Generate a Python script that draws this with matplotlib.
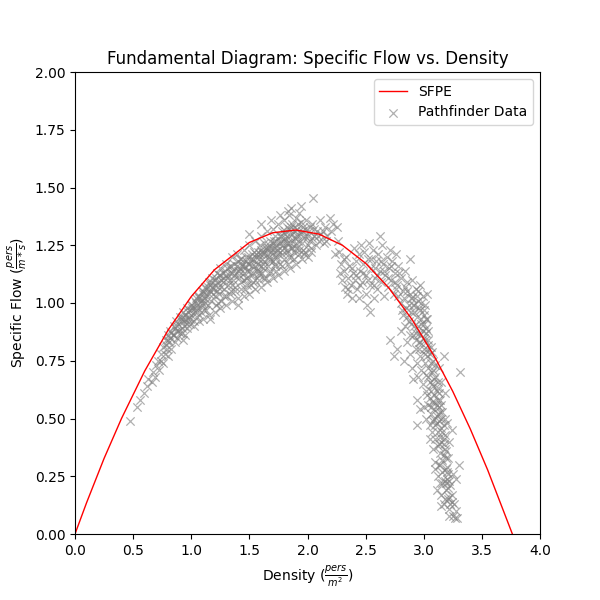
import matplotlib
matplotlib.use("Agg")
import matplotlib.pyplot as plt
import numpy as np

# SFPE curve points (density, specific flow)
sfpe_density = [0.0, 0.1, 0.25, 0.4, 0.6, 0.8, 1.0, 1.2, 1.5, 1.7, 1.9, 2.1, 2.3,
                2.5, 2.7, 2.9, 3.1, 3.25, 3.4, 3.55, 3.77]
sfpe_flow = [0.0, 0.136, 0.327, 0.500, 0.706, 0.882, 1.028, 1.144, 1.262, 1.304, 1.316,
             1.298, 1.250, 1.172, 1.065, 0.928, 0.761, 0.617, 0.455, 0.277, -0.01]

# Pathfinder data, region A (rising branch)
dens_a = [0.47, 0.53, 0.56, 0.59, 0.62, 0.63, 0.66, 0.67, 0.69, 0.70, 0.71, 0.72, 0.74, 0.74,
          0.76, 0.76, 0.77, 0.78, 0.79, 0.80, 0.80, 0.81, 0.82, 0.83, 0.84, 0.85, 0.86, 0.87,
          0.87, 0.88, 0.89, 0.90, 0.90, 0.91, 0.92, 0.93, 0.93, 0.94, 0.95, 0.96, 0.96, 0.97,
          0.98, 0.99, 1.00, 1.00, 1.01, 1.02, 1.03, 1.03, 1.04, 1.05, 1.06, 1.06, 1.07, 1.08,
          1.09, 1.09, 1.10, 1.11, 1.12, 1.12, 1.13, 1.14, 1.15, 1.15, 1.16, 1.16, 1.17, 1.18,
          1.19, 1.20, 1.20, 1.21, 1.22, 1.23, 1.24, 1.25, 1.25, 1.26, 1.27, 1.28, 1.29, 1.30,
          1.30, 1.31, 1.32, 1.33, 1.34, 1.35, 1.35, 1.36, 1.37, 1.38, 1.39, 1.40, 1.40, 1.41,
          1.42, 1.43, 1.44, 1.45, 1.45, 1.46, 1.47, 1.48, 1.49, 1.50, 1.50, 1.51, 1.52, 1.53,
          1.54, 1.55, 1.55, 1.56, 1.57, 1.58, 1.58, 1.59, 1.60, 1.60, 1.61, 1.62, 1.63, 1.63,
          1.64, 1.65, 1.65, 1.66, 1.67, 1.68, 1.68, 1.69, 1.70, 1.70, 1.71, 1.72, 1.72, 1.73,
          1.74, 1.75, 1.75, 1.76, 1.77, 1.78, 1.78, 1.79, 1.80, 1.80, 1.81, 1.82, 1.82, 1.83,
          1.84, 1.84, 1.85, 1.86, 1.86, 1.87, 1.88, 1.88, 1.89, 1.90, 1.90, 1.91, 1.92, 1.93,
          1.93, 1.94, 1.95, 1.96, 1.97, 1.98, 1.99, 2.00, 2.01, 2.02, 2.03, 2.04, 2.05, 2.06,
          2.07, 2.08, 2.10, 2.11, 2.12, 2.14, 2.15, 2.17, 2.19, 2.20, 2.22, 2.25, 1.94, 1.83,
          1.76, 1.69, 1.60, 1.50]
flow_a = [0.49, 0.55, 0.58, 0.61, 0.64, 0.67, 0.66, 0.70, 0.68, 0.73, 0.75, 0.71, 0.75, 0.78,
          0.74, 0.81, 0.78, 0.84, 0.80, 0.77, 0.86, 0.83, 0.88, 0.80, 0.86, 0.90, 0.83, 0.88,
          0.92, 0.85, 0.91, 0.94, 0.87, 0.93, 0.89, 0.96, 0.84, 0.92, 0.95, 0.89, 0.98, 0.93,
          0.97, 0.91, 0.99, 0.95, 0.98, 0.92, 1.01, 0.96, 1.00, 0.94, 1.03, 0.98, 1.02, 0.96,
          1.05, 1.00, 1.04, 0.97, 1.07, 1.02, 1.06, 0.99, 1.09, 1.04, 0.93, 1.08, 1.01, 1.11,
          1.06, 1.03, 1.10, 0.99, 1.13, 1.07, 1.04, 1.12, 1.15, 1.01, 1.09, 1.06, 1.14, 1.17,
          1.03, 1.11, 1.08, 1.16, 1.05, 1.20, 1.13, 1.10, 1.17, 1.07, 1.21, 1.14, 0.99, 1.11,
          1.19, 1.09, 1.16, 1.23, 1.13, 1.06, 1.20, 1.11, 1.17, 1.14, 1.25, 1.08, 1.21, 1.13,
          1.18, 1.27, 1.10, 1.15, 1.22, 1.12, 1.19, 1.25, 1.16, 1.29, 1.13, 1.21, 1.18, 1.26,
          1.11, 1.23, 1.31, 1.16, 1.20, 1.27, 1.14, 1.24, 1.18, 1.32, 1.22, 1.16, 1.29, 1.25,
          1.20, 1.34, 1.23, 1.17, 1.27, 1.21, 1.31, 1.25, 1.19, 1.36, 1.28, 1.23, 1.33, 1.26,
          1.20, 1.38, 1.30, 1.24, 1.41, 1.34, 1.27, 1.22, 1.31, 1.37, 1.25, 1.29, 1.34, 1.23,
          1.39, 1.30, 1.26, 1.33, 1.21, 1.29, 1.36, 1.25, 1.31, 1.27, 1.22, 1.34, 1.455, 1.29,
          1.25, 1.31, 1.27, 1.36, 1.30, 1.26, 1.33, 1.29, 1.37, 1.31, 1.34, 1.33, 1.42, 1.40,
          1.38, 1.36, 1.34, 1.30]

# region A core (dense part of the rising branch)
dens_a2 = [0.78, 0.80, 0.82, 0.83, 0.85, 0.86, 0.88, 0.89, 0.91, 0.92, 0.94, 0.95, 0.97, 0.98,
           1.00, 1.01, 1.03, 1.04, 1.05, 1.07, 1.08, 1.10, 1.11, 1.13, 1.14, 1.16, 1.17, 1.18,
           1.20, 1.21, 1.23, 1.24, 1.26, 1.27, 1.28, 1.30, 1.31, 1.33, 1.34, 1.36, 1.37, 1.39,
           1.40, 1.42, 1.43, 1.44, 1.46, 1.47, 1.49, 1.50, 1.52, 1.53, 1.54, 1.56, 1.57, 1.59,
           1.60, 1.61, 1.63, 1.64, 1.66, 1.67, 1.69, 1.70, 1.71, 1.73, 1.74, 1.76, 1.77, 1.79,
           1.80, 1.81, 1.83, 1.84, 1.85, 1.87, 1.88, 1.89, 1.91, 1.92, 1.94, 1.95, 1.97, 1.98,
           2.00, 2.02, 2.04, 2.06, 2.09, 2.13, 2.16, 1.05, 1.12, 1.19, 1.26, 1.33, 1.41, 1.48,
           1.55, 1.62, 1.68, 1.75, 1.82, 1.90, 0.99, 1.09, 1.22, 1.35, 1.45, 1.58, 1.72, 1.86,
           1.96, 0.92, 0.96]
flow_a2 = [0.82, 0.84, 0.85, 0.87, 0.86, 0.89, 0.90, 0.88, 0.92, 0.94, 0.90, 0.93, 0.96, 0.94,
           0.97, 0.99, 0.98, 1.02, 0.99, 1.03, 1.01, 1.05, 1.02, 1.04, 1.07, 1.05, 1.09, 1.07,
           1.08, 1.11, 1.09, 1.12, 1.10, 1.13, 1.11, 1.12, 1.15, 1.13, 1.16, 1.14, 1.12, 1.16,
           1.18, 1.15, 1.19, 1.17, 1.15, 1.18, 1.20, 1.17, 1.16, 1.19, 1.22, 1.20, 1.17, 1.21,
           1.23, 1.19, 1.22, 1.24, 1.21, 1.25, 1.22, 1.26, 1.24, 1.27, 1.23, 1.26, 1.29, 1.27,
           1.24, 1.30, 1.28, 1.32, 1.26, 1.30, 1.33, 1.28, 1.32, 1.27, 1.35, 1.31, 1.28, 1.32,
           1.29, 1.33, 1.28, 1.32, 1.29, 1.31, 1.27, 0.96, 1.00, 1.04, 1.07, 1.10, 1.12, 1.14,
           1.16, 1.17, 1.19, 1.21, 1.22, 1.24, 0.93, 0.99, 1.05, 1.08, 1.10, 1.13, 1.17, 1.20,
           1.23, 0.87, 0.91]

# region A lower edge and extra core
dens_a3 = [1.10, 1.15, 1.20, 1.25, 1.30, 1.35, 1.40, 1.45, 1.50, 1.55, 1.60, 1.65, 1.70, 1.75,
           1.80, 1.85, 1.90, 1.95, 2.00, 1.13, 1.23, 1.33, 1.43, 1.53, 1.63, 1.73, 1.83, 1.93,
           2.03, 1.28, 1.38, 1.48, 1.58, 1.68, 1.78, 1.88, 1.98, 0.95, 1.02, 1.07,
           1.41, 1.46, 1.51, 1.56, 1.61, 1.66, 1.71, 1.76, 1.81, 1.86, 1.91, 1.52, 1.62, 1.72,
           1.82, 1.87, 1.78, 1.68, 1.57, 1.47]
flow_a3 = [0.93, 0.95, 0.96, 0.98, 0.99, 1.01, 1.02, 1.03, 1.04, 1.06, 1.07, 1.09, 1.11, 1.12,
           1.14, 1.15, 1.17, 1.19, 1.20, 0.97, 1.00, 1.04, 1.06, 1.09, 1.11, 1.14, 1.17, 1.21,
           1.24, 1.03, 1.05, 1.08, 1.10, 1.13, 1.16, 1.19, 1.22, 0.86, 0.90, 0.92,
           1.14, 1.16, 1.19, 1.21, 1.22, 1.24, 1.27, 1.29, 1.31, 1.33, 1.30, 1.12, 1.15, 1.20,
           1.26, 1.24, 1.23, 1.18, 1.14, 1.11]

# region B (cluster after the peak)
dens_b = [2.24, 2.26, 2.28, 2.29, 2.30, 2.31, 2.32, 2.33, 2.34, 2.35, 2.36, 2.37, 2.38, 2.39,
          2.40, 2.41, 2.42, 2.43, 2.44, 2.45, 2.46, 2.47, 2.48, 2.49, 2.50, 2.50, 2.51, 2.52,
          2.53, 2.54, 2.54, 2.55, 2.56, 2.57, 2.58, 2.59, 2.60, 2.61, 2.62, 2.62, 2.63, 2.64,
          2.65, 2.66, 2.67, 2.68, 2.69, 2.70, 2.71, 2.72, 2.73, 2.74, 2.75, 2.76, 2.77, 2.78,
          2.80, 2.82, 2.84, 2.86, 2.88, 2.89,
          2.35, 2.38, 2.42, 2.45, 2.48, 2.52, 2.55, 2.58, 2.60, 2.63, 2.66, 2.69, 2.72, 2.75,
          2.79, 2.31, 2.27, 2.44, 2.57]
flow_b = [1.21, 1.27, 1.13, 1.17, 1.10, 1.14, 1.07, 1.20, 1.04, 1.11, 1.16, 1.08, 1.02, 1.13,
          1.24, 1.10, 1.18, 1.06, 1.21, 1.14, 1.25, 1.09, 1.17, 1.22, 1.12, 1.04, 0.99, 1.19,
          1.26, 1.08, 0.96, 1.15, 1.23, 1.02, 1.11, 1.18, 1.06, 1.21, 1.29, 1.14, 1.09, 1.25,
          1.17, 1.03, 1.12, 1.20, 1.07, 1.15, 1.23, 1.10, 1.18, 1.04, 1.13, 1.21, 1.08, 1.16,
          1.11, 1.05, 1.14, 1.09, 1.19, 1.02,
          1.06, 1.15, 1.12, 1.08, 1.13, 1.10, 1.19, 1.15, 1.12, 1.18, 1.14, 1.11, 1.16, 1.09,
          1.13, 1.19, 1.22, 1.02, 1.08]

# region C (descending branch)
dens_c = [2.80, 2.82, 2.84, 2.85, 2.87, 2.88, 2.89, 2.90, 2.91, 2.92, 2.93, 2.94, 2.95, 2.96,
          2.97, 2.97, 2.98, 2.99, 3.00, 3.00, 3.01, 3.02, 3.03, 3.03, 3.04,
          2.71, 2.74, 2.77, 2.80, 2.83, 2.86, 2.88, 2.90, 2.91, 2.93, 2.94, 2.95, 2.96, 2.97,
          2.98, 2.99, 3.00, 3.01, 3.02, 3.02, 3.03, 3.04, 3.05, 3.05, 3.06, 3.07, 3.08, 3.08,
          3.09, 3.10, 3.11, 3.12, 3.13, 3.14, 3.15, 3.17, 3.18, 2.91, 2.94, 2.97, 2.94,
          3.00, 3.02, 3.04, 3.05, 3.06, 3.07, 3.08, 3.09, 3.10, 3.10, 3.11, 3.12, 3.12, 3.13,
          3.14, 3.14, 3.15, 3.16, 3.16, 3.17, 3.18, 3.19, 3.20, 3.21, 3.22, 3.24, 3.05, 3.08,
          3.10, 3.07, 3.13, 3.18,
          3.10, 3.11, 3.12, 3.13, 3.14, 3.15, 3.16, 3.17, 3.18, 3.19, 3.20, 3.21, 3.22, 3.23,
          3.24, 3.25, 3.26, 3.27, 3.28, 3.29, 3.30, 3.31, 3.28, 3.25, 3.22, 3.15,
          2.95, 2.97, 2.98, 2.99, 3.00, 3.01, 3.02, 3.03, 3.04, 3.05, 3.06, 3.07, 3.08, 3.09,
          3.10, 3.11, 3.12, 3.12, 3.13, 3.14, 3.15, 3.15, 3.16, 3.17, 3.17, 3.18, 3.19, 3.19,
          3.20, 3.21, 3.21, 3.22, 3.23, 2.92, 2.94, 2.96, 2.90, 2.87, 2.86, 2.83, 2.93, 2.96,
          3.06, 3.09, 3.11, 3.13, 3.14, 3.16, 3.18,
          2.86, 2.89, 2.92, 2.95, 2.98, 3.00, 3.02, 3.04, 2.93, 2.97, 3.01, 3.04, 3.07, 3.03,
          3.06, 3.09, 3.12, 3.15, 3.17, 3.20, 3.22, 3.19, 3.24, 2.88, 2.84, 2.81, 2.78, 2.76]
flow_c = [1.00, 0.95, 1.07, 0.98, 0.92, 1.04, 0.96, 1.10, 0.99, 0.90, 1.06, 0.94, 1.01, 0.87,
          1.08, 0.97, 0.91, 1.03, 0.95, 0.85, 0.99, 0.89, 1.04, 0.93, 0.82,
          0.84, 0.77, 0.80, 0.88, 0.75, 0.83, 0.78, 0.72, 0.86, 0.80, 0.74, 0.68, 0.83, 0.77,
          0.71, 0.65, 0.80, 0.74, 0.69, 0.62, 0.77, 0.72, 0.66, 0.59, 0.81, 0.70, 0.64, 0.75,
          0.60, 0.68, 0.56, 0.63, 0.72, 0.58, 0.66, 0.77, 0.61, 0.67, 0.58, 0.54, 0.47,
          0.55, 0.50, 0.56, 0.47, 0.52, 0.44, 0.49, 0.54, 0.41, 0.47, 0.51, 0.38, 0.44, 0.49,
          0.35, 0.42, 0.46, 0.53, 0.32, 0.39, 0.43, 0.36, 0.48, 0.33, 0.40, 0.45, 0.41, 0.37,
          0.31, 0.57, 0.55, 0.50,
          0.28, 0.19, 0.25, 0.30, 0.22, 0.17, 0.27, 0.13, 0.23, 0.19, 0.29, 0.15, 0.11, 0.21,
          0.17, 0.08, 0.13, 0.07, 0.10, 0.07, 0.30, 0.70, 0.24, 0.26, 0.08, 0.12,
          0.90, 0.86, 0.93, 0.88, 0.91, 0.84, 0.87, 0.80, 0.84, 0.78, 0.74, 0.79, 0.71, 0.67,
          0.73, 0.62, 0.66, 0.58, 0.61, 0.53, 0.50, 0.56, 0.44, 0.47, 0.41, 0.37, 0.33, 0.28,
          0.24, 0.20, 0.26, 0.16, 0.13, 0.96, 1.03, 0.98, 1.02, 0.99, 1.05, 1.02, 0.84, 0.80,
          0.62, 0.57, 0.48, 0.39, 0.30, 0.22, 0.15,
          0.94, 0.91, 0.99, 1.05, 1.00, 0.97, 0.93, 0.88, 0.87, 0.83, 0.78, 0.68, 0.65, 0.60,
          0.55, 0.50, 0.52, 0.40, 0.34, 0.27, 0.23, 0.22, 0.14, 0.86, 0.90, 0.97, 1.03, 1.06]

density = np.array(dens_a + dens_a2 + dens_a3 + dens_b + dens_c)
flow = np.array(flow_a + flow_a2 + flow_a3 + flow_b + flow_c)

fig, ax = plt.subplots(figsize=(6, 6), dpi=100)
ax.plot(sfpe_density, sfpe_flow, color='red', linewidth=1, label='SFPE')
ax.scatter(density, flow, marker='x', color='gray', alpha=0.62, linewidths=0.9,
           s=36, label='Pathfinder Data')
ax.set_xlim(0, 4)
ax.set_ylim(0, 2)
ax.set_title('Fundamental Diagram: Specific Flow vs. Density')
ax.set_xlabel(r'Density ($\frac{pers}{m^2}$)')
ax.set_ylabel(r'Specific Flow ($\frac{pers}{m*s}$)')
ax.legend(loc='upper right')
fig.savefig('out.png', dpi=100)
